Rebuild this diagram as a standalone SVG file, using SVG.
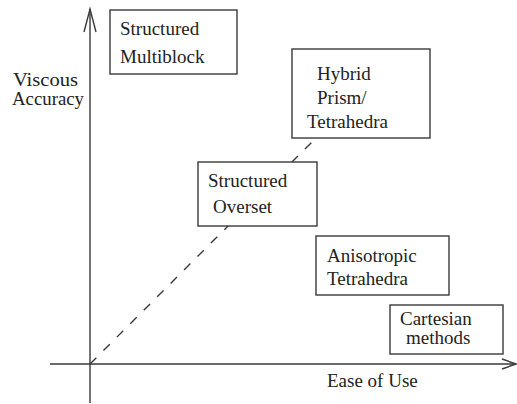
<svg xmlns="http://www.w3.org/2000/svg" width="517" height="404" viewBox="0 0 517 404">
<style>
.ax{stroke:#3a3a3a;stroke-width:1.4;fill:none}
.box{stroke:#3a3a3a;stroke-width:1.4;fill:#fff}
text{font-family:'Liberation Serif','DejaVu Serif',serif;font-size:19px;fill:#222}
</style>
<rect width="517" height="404" fill="#fff"/>
<g id="connectors">
<line class="ax" x1="90" y1="403" x2="90" y2="9"/>
<polyline class="ax" points="84,32 90,9 96,32"/>
<line class="ax" x1="50" y1="364" x2="516" y2="364"/>
<polyline class="ax" points="502,359 516,364 502,369"/>
<line class="ax" x1="90" y1="364" x2="315" y2="139" stroke-dasharray="9,10"/>
</g>
<g id="axis-y-label">
<text x="13" y="86" font-size="16" textLength="65" lengthAdjust="spacingAndGlyphs">Viscous</text>
<text x="12" y="105" font-size="16" textLength="72" lengthAdjust="spacingAndGlyphs">Accuracy</text>
</g>
<g id="axis-x-label">
<text x="327" y="387">Ease of Use</text>
</g>
<g id="structured-multiblock">
<rect class="box" x="110" y="10" width="127" height="64"/>
<text x="120" y="35">Structured</text>
<text x="120" y="63">Multiblock</text>
</g>
<g id="hybrid">
<rect class="box" x="292" y="49" width="138" height="89"/>
<text x="317" y="80">Hybrid</text>
<text x="317" y="104">Prism/</text>
<text x="307" y="128">Tetrahedra</text>
</g>
<g id="structured-overset">
<rect class="box" x="198" y="162" width="119" height="64"/>
<text x="208" y="187">Structured</text>
<text x="213" y="213">Overset</text>
</g>
<g id="anisotropic">
<rect class="box" x="316" y="236" width="133" height="59"/>
<text x="327" y="262">Anisotropic</text>
<text x="327" y="285">Tetrahedra</text>
</g>
<g id="cartesian">
<rect class="box" x="390" y="305" width="113" height="49"/>
<text x="400" y="325">Cartesian</text>
<text x="406" y="344">methods</text>
</g>
</svg>
